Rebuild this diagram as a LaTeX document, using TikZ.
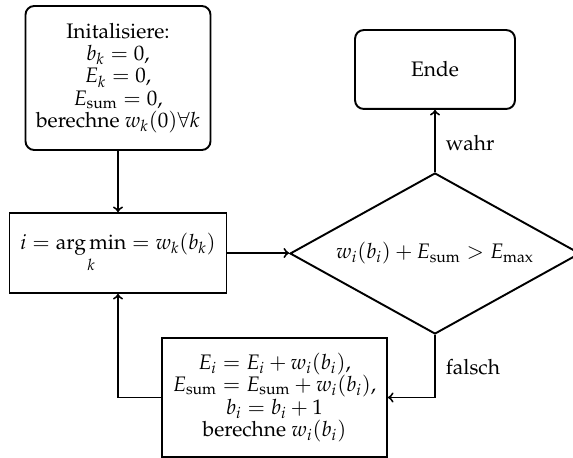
\documentclass[tikz,border=0pt]{standalone}
\usepackage[T1]{fontenc}
\usepackage{mathpazo}
\usetikzlibrary{shapes.geometric}
\begin{document}
\begin{tikzpicture}[x=0.5714pt,y=-0.5714pt,
  line width=1.1pt,
  every node/.style={font=\fontsize{12}{12.8}\selectfont},
  boxbase/.style={draw,align=center,inner sep=2pt},
  roundbox/.style={boxbase,rounded corners=5pt},
  squarebox/.style={boxbase},
  decision/.style={draw,diamond,aspect=1.8,inner sep=0pt,align=center},
  flow/.style={->},
  lbl/.style={right,inner sep=0pt}]
\useasboundingbox (0,0) rectangle (573,458);
\node[roundbox,minimum width=105.7pt,minimum height=82.3pt] (init) at (118,78)
  {Initalisiere:\\ $b_k=0,$\\ $E_k=0,$\\ $E_{\mathrm{sum}}=0,$\\ berechne $w_k(0)\forall k$};
\node[squarebox,minimum width=124pt,minimum height=45.7pt] (amin) at (118,253)
  {$\displaystyle i=\mathop{\mathrm{arg\,min}}\limits_{k}=w_k(b_k)$};
\node[decision,minimum width=165.7pt,minimum height=92pt] (dec) at (435,253.5)
  {$w_i(b_i)+E_{\mathrm{sum}}>E_{\mathrm{max}}$};
\node[roundbox,minimum width=91.4pt,minimum height=45.1pt] (ende) at (435,69.5) {Ende};
\node[squarebox,minimum width=128.6pt,minimum height=68pt] (upd) at (274.5,397.5)
  {$E_i=E_i+w_i(b_i),$\\ $E_{\mathrm{sum}}=E_{\mathrm{sum}}+w_i(b_i),$\\ $b_i=b_i+1$\\ berechne $w_i(b_i)$};
\coordinate (wahrpos) at (445,143);
\coordinate (falschpos) at (445,367);
\draw[flow] (init.south) -- (amin.north);
\draw[flow] (amin.east) -- (amin.east -| dec.west);
\draw[flow] (dec.north) -- (ende.south);
\draw[flow] (dec.south) |- (upd.east);
\draw[flow] (upd.west) -| (amin.south);
\node[lbl] (wahr) at (wahrpos) {wahr};
\node[lbl] (falsch) at (falschpos) {falsch};
\end{tikzpicture}
\end{document}
